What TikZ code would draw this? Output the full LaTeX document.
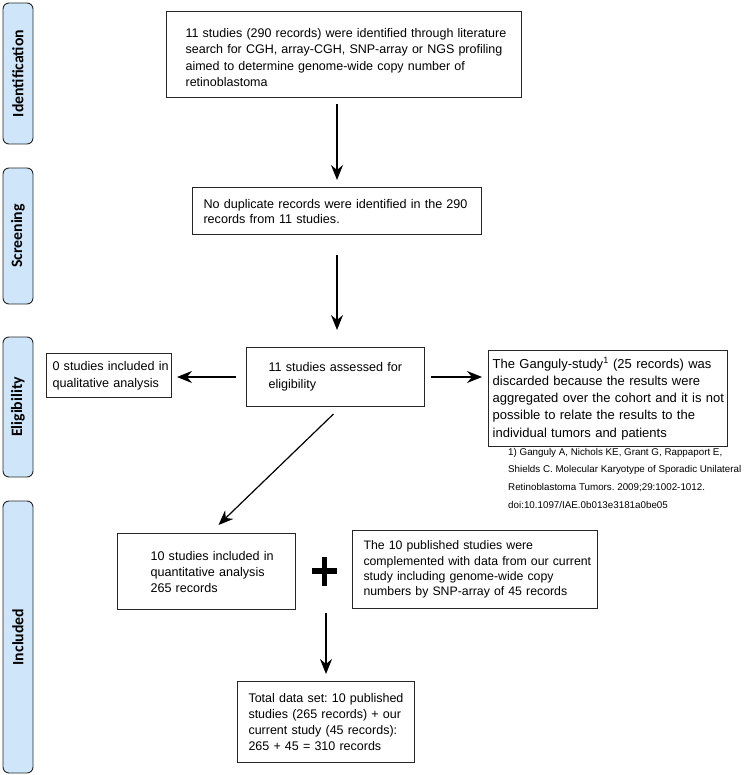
\documentclass[tikz,border=0pt]{standalone}
\usepackage{fontspec}
\setmainfont{Liberation Sans}
\newfontfamily\lblfont{Carlito}
\usetikzlibrary{arrows.meta}
\definecolor{phase}{RGB}{207,230,250}
\newcommand\Ln[1]{\mbox{#1}}
\frenchspacing
\begin{document}
\frenchspacing
\begin{tikzpicture}[x=1pt,y=-1pt,
  phasebox/.style={draw=black!85, line width=0.9pt, fill=phase, rounded corners=6pt,
    rotate=90, minimum height=30pt, inner sep=0pt,
    font=\lblfont\bfseries\fontsize{15.8}{16}\selectfont},
  box/.style={draw=black!85, line width=1pt, anchor=north west, align=left, inner ysep=0pt},
  arr/.style={-{Stealth[length=15pt,width=12pt,inset=5pt]}, line width=1.2pt}]
\useasboundingbox (0,0) rectangle (744,775);

% phase bars
\node[phasebox, minimum width=141pt] (pid) at (18,73.5) {Identification};
\node[phasebox, minimum width=136pt] (psc) at (18,236) {Screening};
\node[phasebox, minimum width=140pt] (pel) at (18,407) {Eligibility};
\node[phasebox, minimum width=272pt] (pin) at (18,637) {Included};

% boxes
\node[box, line width=1.2pt, minimum height=86pt, inner xsep=19pt, text width=317pt,
  font=\fontsize{12.5}{16.3}\selectfont] (iden) at (166,11)
  {\rule{0pt}{15pt}\Ln{11 studies (290 records) were identified through literature}\\
   \Ln{search for CGH, array-CGH, SNP-array or NGS profiling}\\
   \Ln{aimed to determine genome-wide copy number of}\\
   \Ln{retinoblastoma}};

\node[box, minimum height=47pt, inner xsep=11pt, text width=267pt,
  font=\fontsize{12.6}{15}\selectfont] (scr) at (192,187)
  {\Ln{No duplicate records were identified in the 290}\\
   \Ln{records from 11 studies.}};

\node[box, minimum height=59pt, inner xsep=22pt, text width=134pt,
  font=\fontsize{12.6}{17}\selectfont] (elig) at (246,347)
  {\Ln{11 studies assessed for}\\ \Ln{eligibility}};

\node[box, minimum height=44pt, inner xsep=6pt, text width=113pt,
  font=\fontsize{12.6}{17}\selectfont] (qual) at (46,353)
  {\Ln{0 studies included in}\\ \Ln{qualitative analysis}};

\node[box, line width=1.4pt, minimum height=96pt, inner xsep=4pt, text width=231pt,
  font=\fontsize{13}{17.2}\selectfont] (gang) at (488,350)
  {\Ln{The Ganguly-study\textsuperscript{1} (25 records) was}\\
   \Ln{discarded because the results were}\\
   \Ln{aggregated over the cohort and it is not}\\
   \Ln{possible to relate the results to the}\\
   \Ln{individual tumors and patients}};

\node[anchor=north west, inner sep=0pt, align=left,
  font=\fontsize{9.8}{17.6}\selectfont] (ref) at (508,448)
  {1) Ganguly A, Nichols KE, Grant G, Rappaport E,\\
   Shields C. Molecular Karyotype of Sporadic Unilateral\\
   Retinoblastoma Tumors. 2009;29:1002-1012.\\
   doi:10.1097/IAE.0b013e3181a0be05};

\node[box, minimum height=76pt, inner xsep=33pt, text width=112pt,
  font=\fontsize{12.6}{16}\selectfont] (qt) at (117,533)
  {\Ln{10 studies included in}\\ \Ln{quantitative analysis}\\ \Ln{265 records}};

\node[box, minimum height=78pt, inner xsep=11pt, text width=223pt,
  font=\fontsize{12.3}{15.2}\selectfont] (comp) at (352,530)
  {\Ln{The 10 published studies were}\\
   \Ln{complemented with data from our current}\\
   \Ln{study including genome-wide copy}\\
   \Ln{numbers by SNP-array of 45 records}};

\node[box, minimum height=81pt, inner xsep=11pt, text width=155pt,
  font=\fontsize{12.5}{15.7}\selectfont] (fin) at (237,681)
  {\Ln{Total data set: 10 published}\\
   \Ln{studies (265 records) + our}\\
   \Ln{current study (45 records):}\\
   \Ln{265 + 45 = 310 records}};

% plus sign
\coordinate (pl) at (324.5,571);
\draw[line width=5.5pt] ([xshift=-12.5pt]pl) -- ([xshift=12.5pt]pl);
\draw[line width=5.5pt] ([yshift=14.5pt]pl) -- ([yshift=-14.5pt]pl);

% arrows
\draw[arr, shorten <=6pt, shorten >=7pt] (iden.south -| scr.north) -- (scr.north);
\draw[arr, shorten <=20pt, shorten >=17pt] (scr.south) -- (scr.south |- elig.north);
\draw[arr, shorten <=10pt, shorten >=5pt] (elig.west) -- (elig.west -| qual.east);
\draw[arr, shorten <=6pt, shorten >=6pt] (elig.east) -- (elig.east -| gang.west);
\draw[arr] ([xshift=-2pt,yshift=-7pt]elig.south) -- ([xshift=12pt,yshift=8pt]qt.north);
\draw[arr, shorten <=3pt, shorten >=7pt] (fin.north |- qt.south) -- (fin.north);
\end{tikzpicture}
\end{document}
